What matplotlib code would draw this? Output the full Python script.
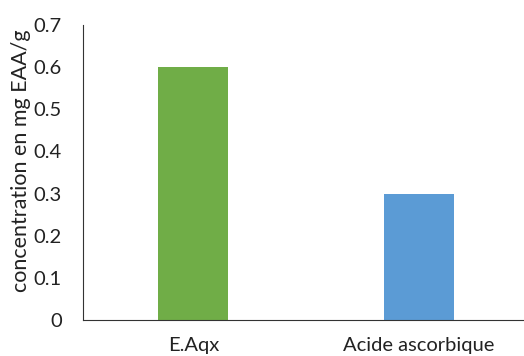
import matplotlib.pyplot as plt

# donnees
categories = ['E.Aqx', 'Acide ascorbique']
valeurs = [0.6, 0.3]
couleurs = ['#70AD47', '#5B9BD5']
yticks = [0, 0.1, 0.2, 0.3, 0.4, 0.5, 0.6, 0.7]
ytick_labels = ['0', '0.1', '0.2', '0.3', '0.4', '0.5', '0.6', '0.7']

plt.rcParams['font.family'] = ['Lato', 'DejaVu Sans']

fig = plt.figure(figsize=(5.24, 3.56), dpi=100)
ax = fig.add_axes([0.158, 0.101, 0.842, 0.829])

x = range(len(categories))
ax.bar(x, valeurs, width=0.31, color=couleurs)

ax.set_xlim(-0.49, 1.465)
ax.set_ylim(0, 0.7)
ax.set_xticks(list(x))
ax.set_xticklabels(categories, fontsize=14.5, color='#222222')
ax.tick_params(axis='x', pad=12)
ax.set_yticks(yticks)
ax.set_yticklabels(ytick_labels, fontsize=14.5, color='#222222')
ax.tick_params(axis='both', length=0)
ax.tick_params(axis='y', pad=15)

ax.spines['top'].set_visible(False)
ax.spines['right'].set_visible(False)
ax.spines['left'].set_color('#333333')
ax.spines['bottom'].set_color('#333333')

ax.set_ylabel('concentration en mg EAA/g', fontsize=15.5, color='#222222')
ax.yaxis.set_label_coords(-0.118, 0.54)

fig.savefig('out.png', dpi=100)
